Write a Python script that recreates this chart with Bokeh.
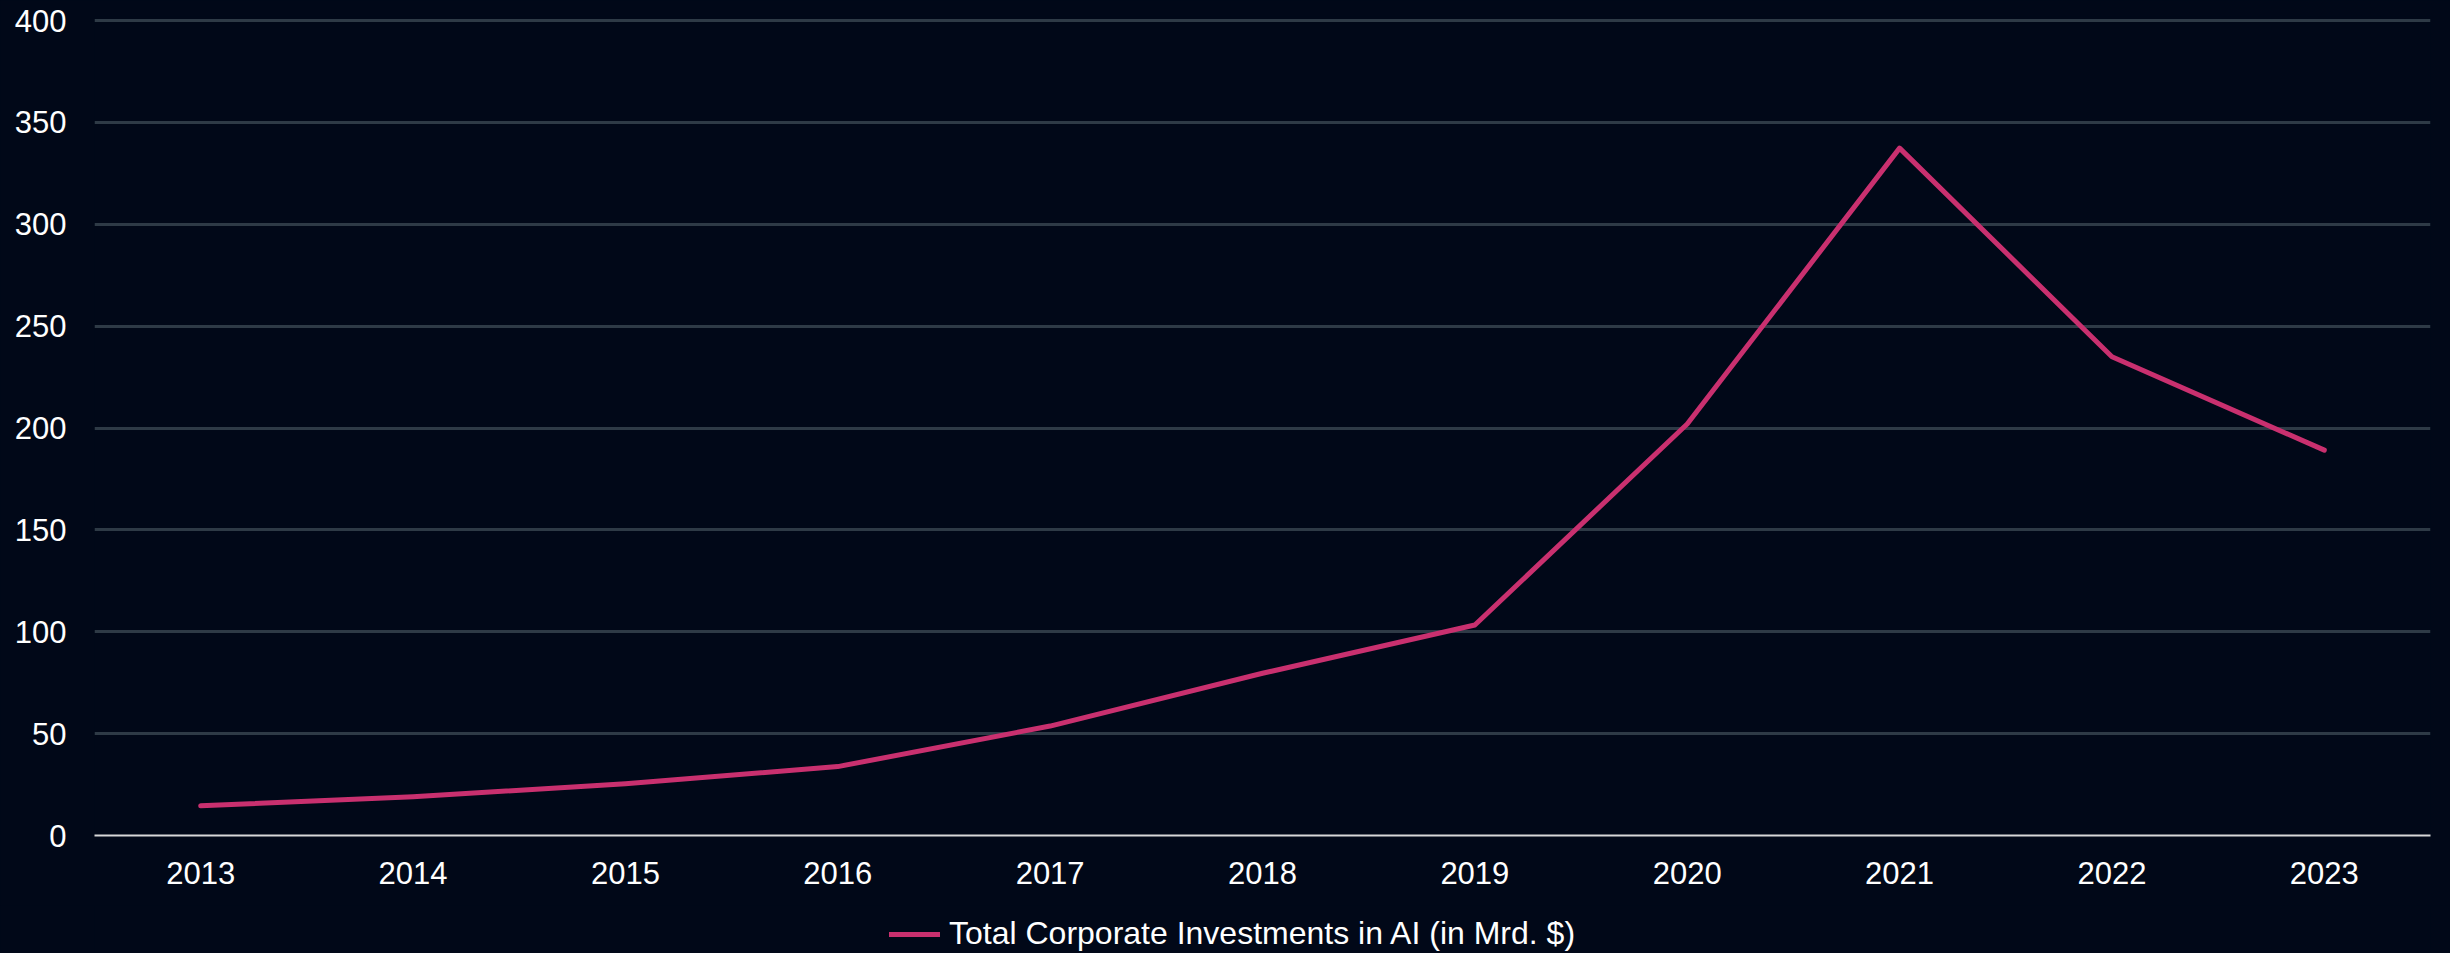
from bokeh.plotting import figure
from bokeh.models import Range1d, FactorRange, FixedTicker, Legend, LegendItem, ColumnDataSource
from bokeh.layouts import column
from bokeh.embed import file_html
from bokeh.resources import INLINE

years = ["2013", "2014", "2015", "2016", "2017", "2018", "2019", "2020", "2021", "2022", "2023"]
investments = [14.57, 19.04, 25.43, 33.82, 53.72, 79.62, 103.35, 201.96, 337.4, 234.99, 189.16]
y_ticks = [0, 50, 100, 150, 200, 250, 300, 350, 400]
series_name = "Total Corporate Investments in AI (in Mrd. $)"

BG = "#010818"
FONT = "Liberation Sans"
LINE = "#c9306f"

p = figure(
    x_range=FactorRange(*years, range_padding=0),
    y_range=Range1d(0, 402),
    frame_width=2336, frame_height=819,
    output_backend="svg", toolbar_location=None,
    background_fill_color=BG, border_fill_color=BG,
    min_border_left=94, min_border_right=20, min_border_top=16, min_border_bottom=70,
)
p.outline_line_color = None

src = ColumnDataSource(dict(x=years, y=investments))
p.line("x", "y", source=src, line_color=LINE, line_width=5, line_join="round", line_cap="round")

p.xgrid.grid_line_color = None
p.ygrid.grid_line_color = "#2e3a46"
p.ygrid.grid_line_width = 3
p.yaxis.ticker = FixedTicker(ticks=y_ticks)

p.yaxis.axis_line_color = None
p.yaxis.major_tick_line_color = None
p.yaxis.minor_tick_line_color = None
p.yaxis.major_tick_out = 0
p.yaxis.minor_tick_out = 0
p.yaxis.major_label_text_color = "#ffffff"
p.yaxis.major_label_text_font = FONT
p.yaxis.major_label_text_font_size = "31px"
p.yaxis.major_label_standoff = 28

p.xaxis.axis_line_color = "#d8d8d8"
p.xaxis.axis_line_width = 2
p.xaxis.major_tick_line_color = None
p.xaxis.minor_tick_line_color = None
p.xaxis.major_tick_out = 0
p.xaxis.minor_tick_out = 0
p.xaxis.major_label_text_color = "#ffffff"
p.xaxis.major_label_text_font = FONT
p.xaxis.major_label_text_font_size = "31px"
p.xaxis.major_label_standoff = 26

# legend strip below the chart (its frame is aligned with the chart frame)
lg = figure(
    width=2450, height=48,
    x_range=Range1d(0, 1), y_range=Range1d(0, 1),
    x_axis_type=None, y_axis_type=None,
    output_backend="svg", toolbar_location=None,
    background_fill_color=BG, border_fill_color=BG,
    min_border=0,
)
lg.outline_line_color = None
# legend key renderer, kept outside the visible range
key = lg.line(x=[-2, -1], y=[-2, -2], line_color=LINE, line_width=5, line_cap="round")

legend = Legend(
    items=[LegendItem(label=series_name, renderers=[key])],
    orientation="horizontal", location=(795, 1),
    background_fill_alpha=0, border_line_color=None,
    label_text_color="#ffffff", label_text_font=FONT, label_text_font_size="32px",
    glyph_width=51, glyph_height=20, label_standoff=9,
    padding=0, margin=0,
)
lg.add_layout(legend, "center")

layout = column(p, lg, spacing=0, styles={"background-color": BG})
open("out.html", "w").write(file_html(layout, INLINE))
